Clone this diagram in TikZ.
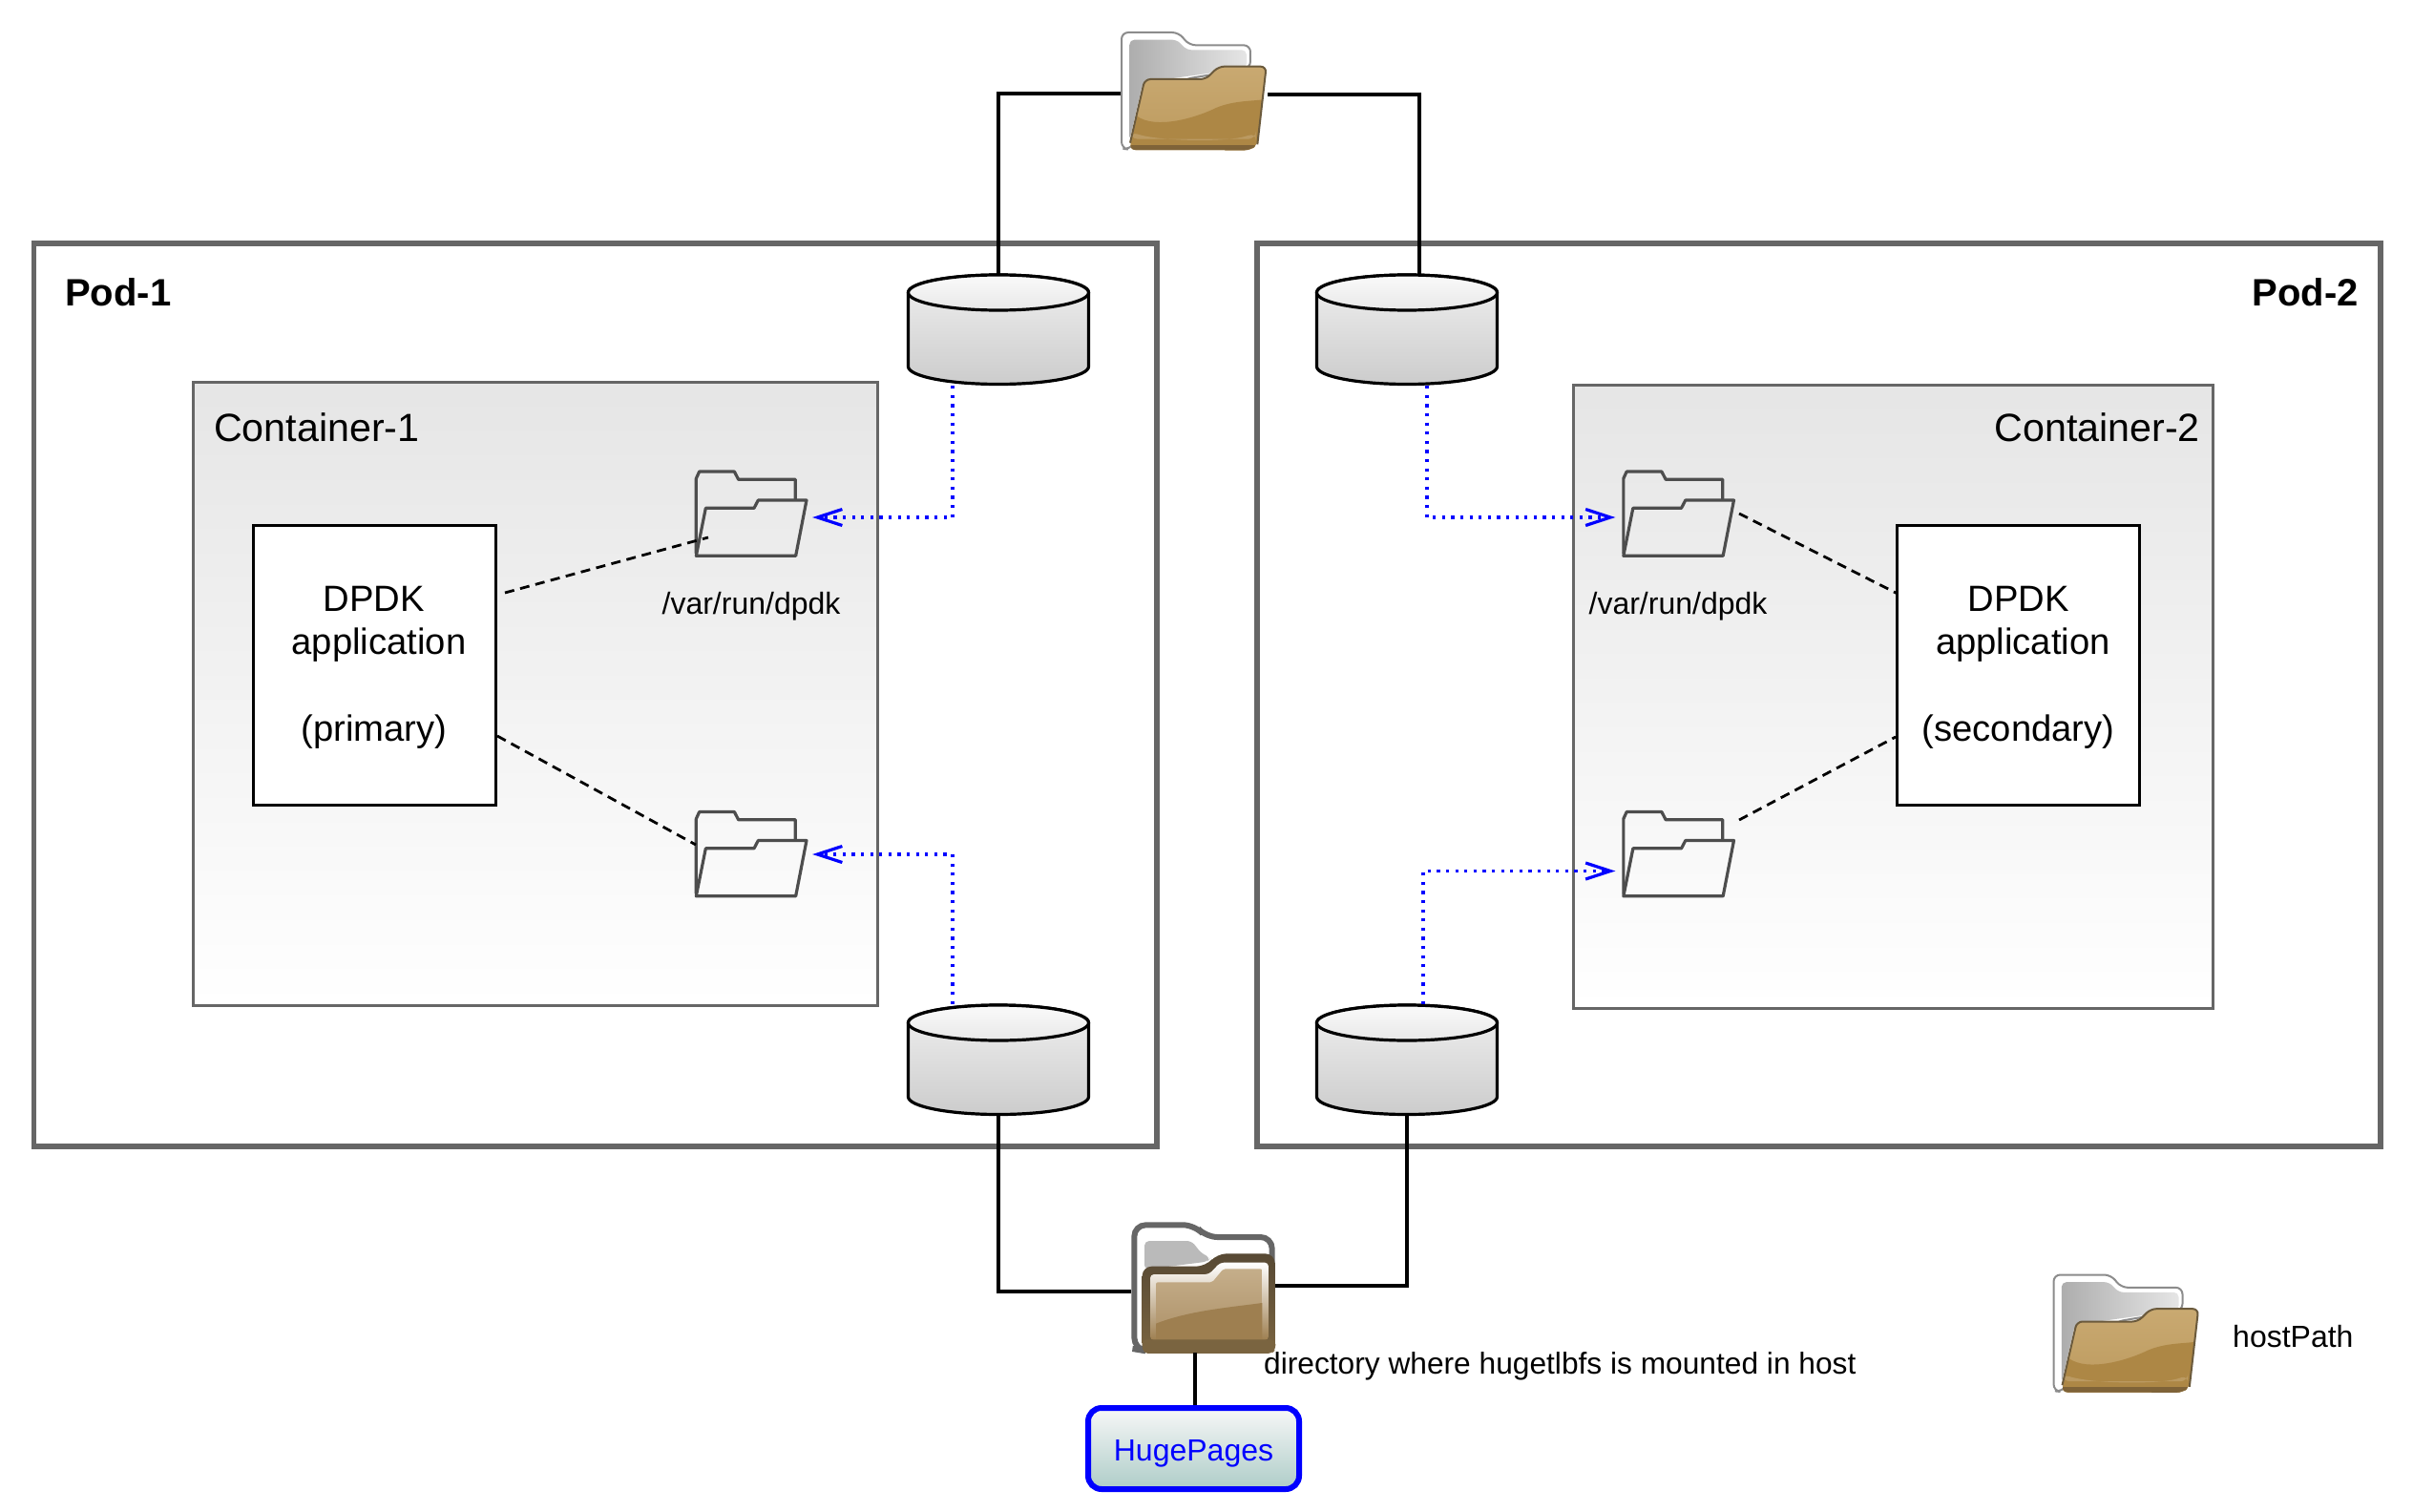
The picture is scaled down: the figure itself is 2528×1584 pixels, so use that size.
\documentclass[tikz,border=0pt]{standalone}
\usepackage{fontspec}
\setmainfont{Liberation Sans}
\usetikzlibrary{arrows.meta,calc}
\definecolor{podgray}{HTML}{666666}
\definecolor{ink}{HTML}{4D4D4D}
\definecolor{ftopc}{HTML}{C9A971}
\definecolor{fmidc}{HTML}{BC9A5E}
\definecolor{fdark}{HTML}{AD8745}
\definecolor{fband}{HTML}{BB9A62}
\definecolor{fstrip}{HTML}{7F6338}
\definecolor{fedge}{HTML}{6B5A3C}
\definecolor{bdark}{HTML}{574934}
\definecolor{btop}{HTML}{C5AE8A}
\definecolor{bmid}{HTML}{AD9168}
\definecolor{blow}{HTML}{9E7F50}
\definecolor{bstrip}{HTML}{7A6440}
\definecolor{hpbottom}{HTML}{AECDC8}
\newcommand\sizeL{\fontsize{41.2}{47}\selectfont}
\newcommand\sizeB{\fontsize{40}{46}\selectfont}
\newcommand\sizeM{\fontsize{38.2}{45.5}\selectfont}
\newcommand\sizeS{\fontsize{32}{38}\selectfont}
\newcommand\sizeT{\fontsize{31.7}{38}\selectfont}
\tikzset{
  x=1pt,y=-1pt,
  pod/.style={draw=podgray,line width=5.5pt,fill=white},
  container/.style={draw=podgray,line width=3pt,top color=black!10,bottom color=white},
  appbox/.style={draw=black,line width=3pt,fill=white,inner sep=0pt,
    minimum width=254pt,minimum height=293pt},
  apptext/.style={align=center,font=\sizeM,inner sep=0pt,yshift=-3pt},
  conn/.style={draw=black,line width=3.2pt},
  dashline/.style={draw=black,line width=2.8pt,dash pattern=on 10pt off 6.5pt},
  mount/.style={draw=blue,line width=3.2pt,dash pattern=on 3.2pt off 6.4pt,
    -{Straight Barb[length=26pt,width=17pt,line width=3.2pt]}},
  cylspot/.style={inner sep=0pt,minimum width=192pt,minimum height=117pt},
  spot/.style={inner sep=0pt},
  hp/.style={draw=blue,line width=6pt,rounded corners=14pt,top color=black!3,bottom color=hpbottom,
    text=blue,font=\sizeS,inner sep=0pt,minimum width=221pt,minimum height=85pt,text depth=0pt},
  label/.style={inner sep=0pt,font=\sizeS},
}
% cylinder centred on a named node
\newcommand\cyl[3]{%
  \node[cylspot] (#1) at (#2,#3) {};
  \path[draw=black,line width=3.2pt,top color=black!6,bottom color=black!20]
    (#2-94.5,#3-39) -- (#2-94.5,#3+38.5) arc[start angle=180,end angle=0,x radius=94.5,y radius=18.5]
    -- (#2+94.5,#3-39) arc[start angle=0,end angle=-180,x radius=94.5,y radius=18.5] -- cycle;
  \path[draw=black,line width=3.2pt,top color=black!2,bottom color=black!9]
    (#2,#3-39) ellipse[x radius=94.5,y radius=18.5];
}
% outlined folder; coordinates are those of a 3x crop
\newcommand\smallfolder[3]{%
  \node[spot,minimum width=118pt,minimum height=91pt] (#1) at (#2,#3) {};
  \begin{scope}[shift={(#2-59,#3-45.5)},x=.3333pt,y=-.3333pt,draw=ink,line width=3.2pt,line join=round,line cap=round]
    \draw (7,260) -- (7,25) -- (17,3) -- (127,3) -- (140,28) -- (319,28) -- (319,90);
    \draw (202,93) -- (354,93) -- (320,268) -- (7,268) -- (37,118) -- (189,118) -- cycle;
  \end{scope}
}
% glossy folder
\newcommand\bigfolder[3]{%
  \node[spot,minimum width=153pt,minimum height=125pt] (#1) at (#2,#3) {};
  \begin{scope}[shift={(#2-76.5,#3-62.5)},x=.3333pt,y=-.3333pt]
    \path[draw=black!45,line width=2pt,fill=white,rounded corners=7pt]
      (3,368) -- (3,3) -- (183,3) -- (215,43) -- (408,43) -- (408,115) -- (200,150) -- (28,371) -- cycle;
    \path[left color=black!32,right color=black!10,rounded corners=5pt]
      (28,342) -- (28,26) -- (177,26) -- (208,58) -- (396,58) -- (396,115) -- (70,160) -- cycle;
    \path[top color=ftopc,bottom color=fmidc,rounded corners=6pt]
      (28,372) -- (76,150) -- (268,150) -- (308,110) -- (458,110) -- (430,355) -- (408,373) -- cycle;
    \begin{scope}
      \clip[rounded corners=6pt] (28,372) -- (76,150) -- (268,150) -- (308,110) -- (458,110) -- (430,355) -- (408,373) -- cycle;
      \fill[fill=fdark] (50,265) .. controls (110,310) and (240,270) .. (300,240) .. controls (360,215) and (420,220) .. (460,212) -- (460,375) -- (20,375) -- cycle;
      \fill[fill=fband,rounded corners=8pt] (30,315) .. controls (120,345) and (340,350) .. (425,318) -- (425,338) -- (30,338) -- cycle;
      \fill[fill=fstrip] (20,356) -- (460,356) -- (460,375) -- (20,375) -- cycle;
    \end{scope}
    \draw[draw=fedge,line width=2pt,rounded corners=6pt]
      (30,350) -- (76,150) -- (268,150) -- (308,110) -- (458,110) -- (430,355);
  \end{scope}
}
\newcommand\bottomfolder[3]{%
  \node[spot,minimum width=151pt,minimum height=137pt] (#1) at (#2,#3) {};
  \begin{scope}[shift={(#2-75.5,#3-68.5)},x=.3333pt,y=-.3333pt]
    \path[draw=black!60,line width=6pt,fill=white,rounded corners=12pt]
      (10,400) -- (10,10) -- (200,10) -- (235,48) -- (443,48) -- (443,160) -- (40,405) -- cycle;
    \path[fill=black!27,rounded corners=5pt]
      (42,145) -- (42,60) -- (190,60) -- (222,100) -- (250,112) -- (240,125) -- (42,150) -- cycle;
    \path[top color=bdark,bottom color=bstrip,rounded corners=10pt]
      (35,412) -- (35,140) -- (235,140) -- (270,100) -- (452,100) -- (452,412) -- cycle;
    \path[top color=white,bottom color=blow,rounded corners=4pt]
      (60,372) -- (60,165) -- (245,165) -- (280,128) -- (432,128) -- (432,372) -- cycle;
    \path[top color=btop,bottom color=bmid,rounded corners=2pt]
      (78,372) -- (78,190) -- (255,190) -- (290,148) -- (412,148) -- (412,372) -- cycle;
    \path[fill=blow]
      (78,372) -- (78,320) .. controls (180,280) and (300,270) .. (412,255) -- (412,372) -- cycle;
    \path[fill=bstrip,rounded corners=5pt]
      (33,370) -- (454,370) -- (454,402) -- (442,414) -- (38,414) -- cycle;
  \end{scope}
}
\begin{document}
\begin{tikzpicture}
\useasboundingbox (0,0) rectangle (2528,1584);
\fill[white] (0,0) rectangle (2528,1584);

% pods
\path[pod] (35.5,255) rectangle (1212,1201);
\path[pod] (1317,255) rectangle (2494,1201);
\node[anchor=west,inner sep=0pt,font=\sizeB\bfseries] (podone) at (68,306) {Pod-1};
\node[anchor=east,inner sep=0pt,font=\sizeB\bfseries] (podtwo) at (2471,306) {Pod-2};

% containers
\path[container] (202,400) rectangle (919,1053);
\path[container] (1648,403) rectangle (2318,1056);
\node[anchor=west,inner sep=0pt,font=\sizeL] (contone) at (224,447.5) {Container-1};
\node[anchor=east,inner sep=0pt,font=\sizeL] (conttwo) at (2305,447.5) {Container-2};

% applications
\node[appbox] (appone) at (392,696.5) {};
\node[appbox] (apptwo) at (2114.5,696.5) {};
\node[apptext] (apponetext) at (appone.center) {DPDK\\\hspace*{10pt}application\\[45.5pt](primary)};
\node[apptext] (apptwotext) at (apptwo.center) {DPDK\\\hspace*{10pt}application\\[45.5pt](secondary)};

% folders inside the containers
\smallfolder{fa}{786}{538.5}
\smallfolder{fb}{786}{895}
\smallfolder{fc}{1757.5}{538.5}
\smallfolder{fd}{1757.5}{895}
\node[label] (lba) at (787,635.5) {/var/run/dpdk};
\node[label] (lbb) at (1758,635.5) {/var/run/dpdk};

% volumes
\cyl{cyla}{1046}{345.5}
\cyl{cylb}{1474}{345.5}
\cyl{cylc}{1046}{1110.5}
\cyl{cyld}{1474}{1110.5}

% host folders
\bigfolder{ftop}{1250.5}{95.5}
\bottomfolder{fbot}{1260.5}{1348.5}
\bigfolder{flegend}{2227}{1397}
\node[anchor=west,label] (lblegend) at (2339,1400) {hostPath};
\node[anchor=west,inner sep=0pt,font=\sizeT] (lbhost) at (1324,1431) {directory where hugetlbfs is mounted in host};
\node[hp] (hugepages) at (1250.5,1517.5) {\raisebox{-4pt}{HugePages}};

% host connectors
\draw[conn] ([yshift=-2.5pt]ftop.west) -| (cyla.north);
\draw[conn] ([yshift=-3.5pt,xshift=1pt]ftop.east) -| ([xshift=13pt]cylb.north);
\draw[conn] (cylc.south) |- ([yshift=-4.5pt]fbot.west);
\draw[conn] (cyld.south) |- ([yshift=1.5pt]fbot.east);
\draw[conn] ([xshift=1.5pt]hugepages.north |- fbot.south) -- ([xshift=1.5pt]hugepages.north);

% dashed links
\draw[dashline] (529,621) -- (742,563);
\draw[dashline] (521,771) -- (729,885);
\draw[dashline] (1822,538) -- (1988,622);
\draw[dashline] (1822,859) -- (1986,772);

% mounts
\draw[mount] ([xshift=-48pt]cyla.south) |- ([xshift=6pt,yshift=-3.5pt]fa.east);
\draw[mount] ([xshift=21pt]cylb.south) |- ([xshift=-6pt,yshift=-3.5pt]fc.west);
\draw[mount] ([xshift=-48pt]cylc.north) |- ([xshift=6pt]fb.east);
\draw[mount] ([xshift=17pt]cyld.north) |- ([xshift=-6pt,yshift=-17.5pt]fd.west);
\end{tikzpicture}
\end{document}
